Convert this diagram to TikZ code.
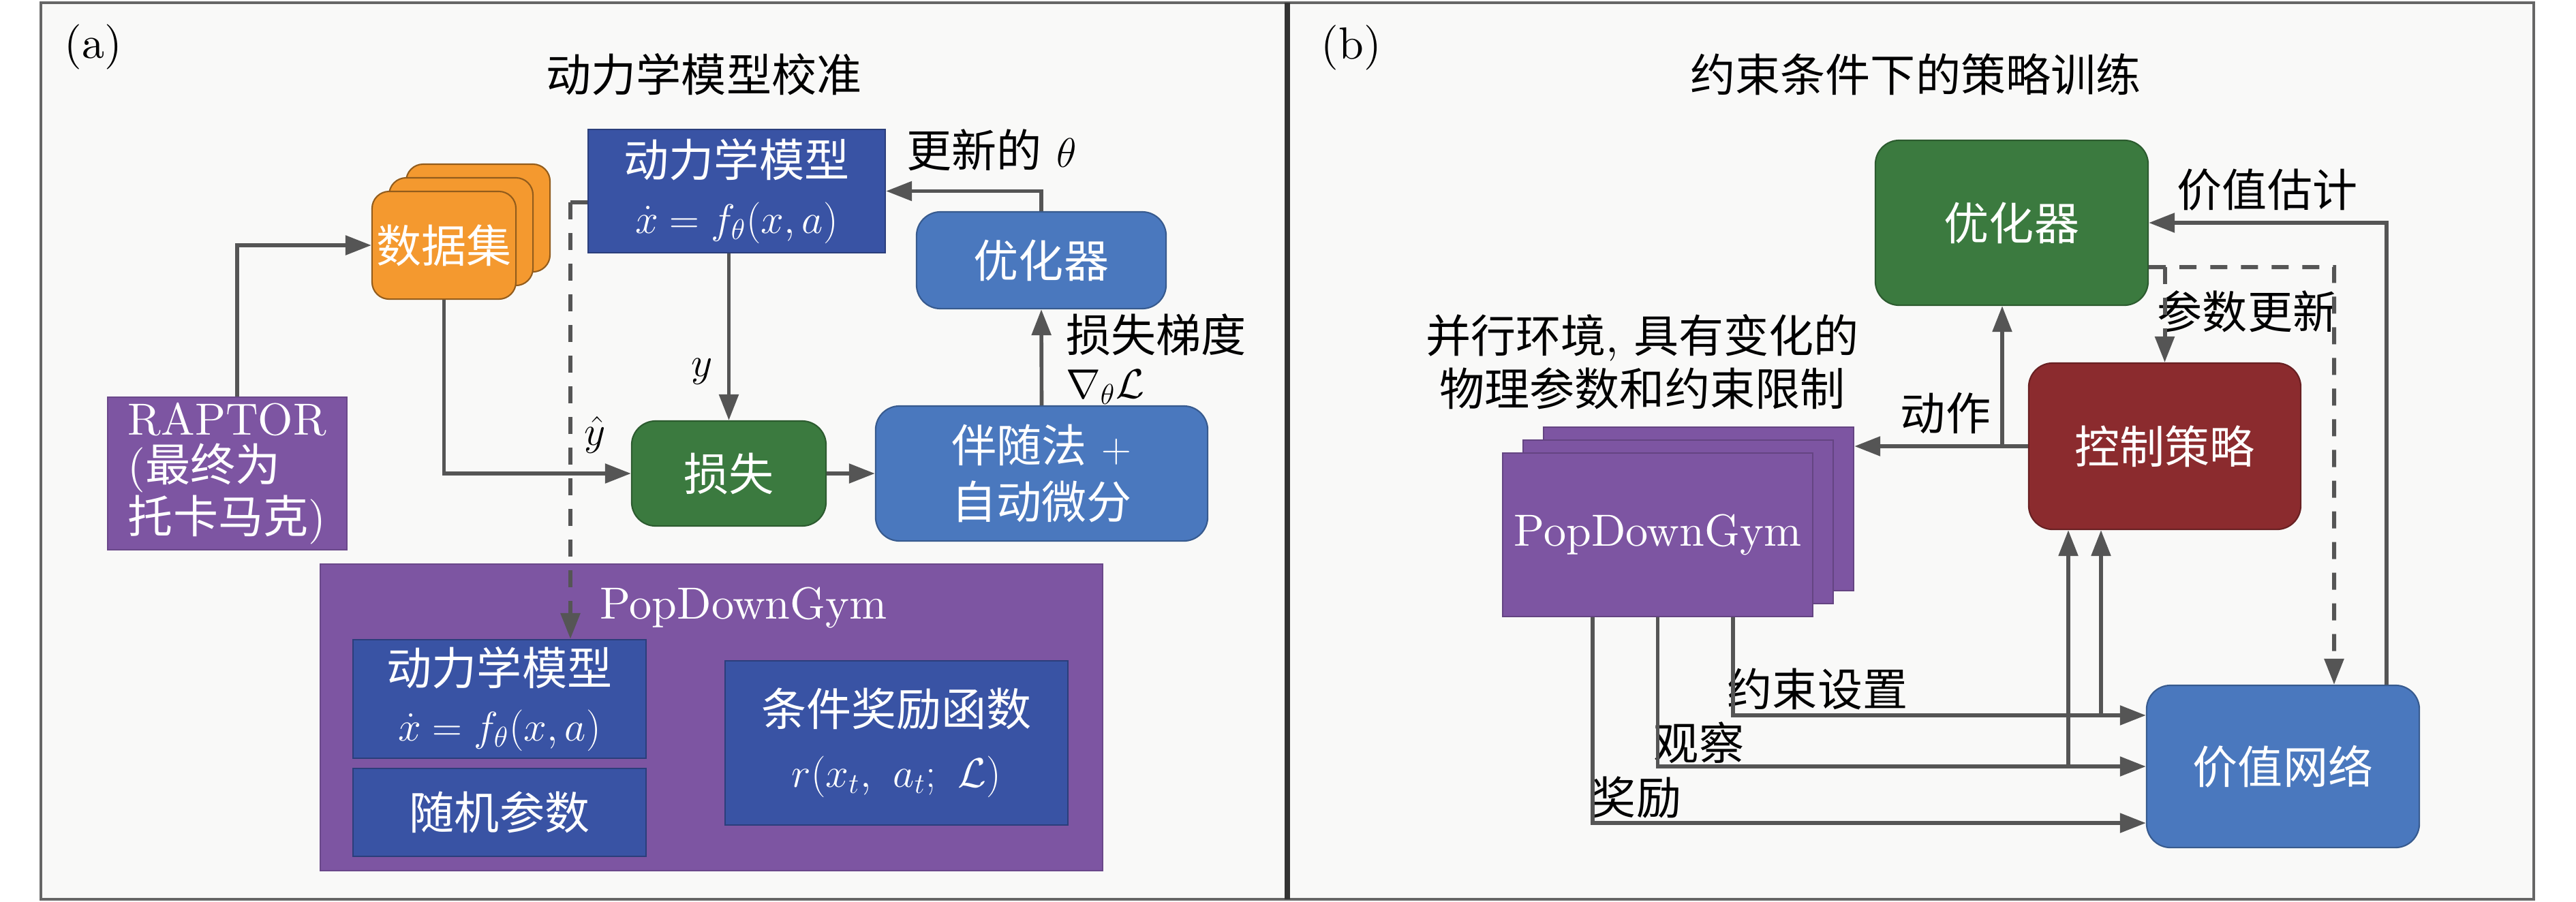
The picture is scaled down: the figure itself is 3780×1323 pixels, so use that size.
\documentclass[tikz,border=0pt]{standalone}
\usepackage{fontspec}
\setmainfont{lmroman10-regular.otf}[BoldFont=lmroman10-bold.otf, ItalicFont=lmroman10-italic.otf]
\newfontfamily\cjkfont{Noto Sans CJK SC}
\newcommand\zhtxt[1]{{\cjkfont #1}}
\usetikzlibrary{arrows.meta}
\definecolor{dkblue}{HTML}{3953A4}
\definecolor{mdblue}{HTML}{4A78BE}
\definecolor{orng}{HTML}{F4992F}
\definecolor{purp}{HTML}{7D55A2}
\definecolor{grn}{HTML}{3B7A3F}
\definecolor{dkred}{HTML}{8B2B2E}
\definecolor{bgc}{HTML}{F9F9F8}
\definecolor{linec}{HTML}{555555}
\definecolor{framec}{HTML}{666666}
\begin{document}
\begin{tikzpicture}[x=0.01cm,y=-0.01cm,
  fA/.style={font=\fontsize{18.8}{23.5}\selectfont},
  fB/.style={font=\fontsize{18.8}{19.3}\selectfont},
  fC/.style={font=\fontsize{18.8}{25.6}\selectfont},
  fD/.style={font=\fontsize{18.8}{22.2}\selectfont},
  box/.style={inner sep=0pt, align=center, text=white, line width=0.6pt, fA},
  sqbox/.style={box},
  rbox/.style={box, rounded corners=0.35cm},
  lbl/.style={inner sep=1pt, align=center, text=black, fA},
  arr/.style={draw=linec, line width=1.6pt, -{Triangle[length=0.38cm,width=0.28cm]}},
  plain/.style={draw=linec, line width=1.6pt},
  darr/.style={draw=linec, line width=1.7pt, dash pattern=on 0.25cm off 0.2cm, -{Triangle[length=0.38cm,width=0.28cm]}},
]
\useasboundingbox (0,0) rectangle (3780,1323);
% frame
\fill[bgc] (60,4) rectangle (3718,1320);
\draw[framec, line width=1.4pt] (60,4) rectangle (3718,1320);
\draw[black!80, line width=2pt] (1889,4) -- (1889,1320);

% ---------------- panel (a)
\node[lbl] (la) at (137,69) {(a)};
\node[lbl] (ta) at (1033,109) {\zhtxt{动力学模型校准}};

\node[sqbox, fill=dkblue, draw=dkblue!75!black, minimum width=4.36cm, minimum height=1.81cm] (dyn) at (1081,280.5)
  {\zhtxt{动力学模型}\\$\dot{x}=f_\theta(x,a)$};
\node[rbox, fill=mdblue, draw=mdblue!75!black, minimum width=3.66cm, minimum height=1.42cm] (opta) at (1528,382) {\zhtxt{优化器}};
\node[lbl] (upd) at (1455,220) {\zhtxt{更新的} $\theta$};

\node[box, rounded corners=0.25cm, fill=orng, draw=orng!60!black, minimum width=2.11cm, minimum height=1.58cm] (ds3) at (701.5,320) {};
\node[box, rounded corners=0.25cm, fill=orng, draw=orng!60!black, minimum width=2.11cm, minimum height=1.58cm] (ds2) at (676.5,340) {};
\node[box, rounded corners=0.25cm, fill=orng, draw=orng!60!black, minimum width=2.11cm, minimum height=1.58cm] (ds) at (651.5,360) {\zhtxt{数据集}};

\node[sqbox, fill=purp, draw=purp!85!black, minimum width=3.51cm, minimum height=2.24cm, align=left, fB] (rap) at (333.5,695)
  {RAPTOR\\(\zhtxt{最终为}\\\zhtxt{托卡马克})};

\node[rbox, fill=grn, draw=grn!75!black, minimum width=2.85cm, minimum height=1.54cm] (loss) at (1069.5,695) {\zhtxt{损失}};
\node[rbox, fill=mdblue, draw=mdblue!75!black, minimum width=4.87cm, minimum height=1.98cm] (adj) at (1528.5,695)
  {\zhtxt{伴随法} $+$\\\zhtxt{自动微分}};

\node[lbl, align=left, anchor=west, fB] (grad) at (1560,527) {\zhtxt{损失梯度}\\$\nabla_\theta\mathcal{L}$};
\node[lbl] (ylab) at (1030,545) {$y$};
\node[lbl] (yhat) at (873,638) {$\hat{y}$};

\node[sqbox, fill=purp, draw=purp!85!black, minimum width=11.48cm, minimum height=4.50cm] (pdg) at (1044,1053) {};
\node[lbl, text=white] (pdgt) at (1091,892) {PopDownGym};
\node[sqbox, fill=dkblue, draw=dkblue!75!black, minimum width=4.30cm, minimum height=1.74cm] (idyn) at (733,1026)
  {\zhtxt{动力学模型}\\$\dot{x}=f_\theta(x,a)$};
\node[sqbox, fill=dkblue, draw=dkblue!75!black, minimum width=4.30cm, minimum height=1.29cm] (rnd) at (733,1192.5) {\zhtxt{随机参数}};
\node[sqbox, fill=dkblue, draw=dkblue!75!black, minimum width=5.03cm, minimum height=2.41cm, fC] (rew) at (1315.5,1090.5)
  {\zhtxt{条件奖励函数}\\$r(x_t,\ a_t;\ \mathcal{L})$};

% connectors (a)
\draw[arr] (opta.north) |- (dyn.east);
\draw[arr] ([xshift=0.145cm]rap.north) |- (ds.west);
\draw[arr] (ds.south) |- (loss.west);
\draw[arr] (dyn.south -| loss.north) -- (loss.north);
\draw[arr] (loss.east) -- (adj.west);
\draw[arr] (adj.north) -- (opta.south);
\coordinate (dk) at (837,297);
\draw[plain] (dyn.west |- dk) -- (dk);
\draw[darr] (dk) -- (dk |- idyn.north);

% ---------------- panel (b)
\node[lbl] (lb) at (1983,70) {(b)};
\node[lbl] (tb) at (2811,109) {\zhtxt{约束条件下的策略训练}};

\node[rbox, fill=grn, draw=grn!75!black, minimum width=4.00cm, minimum height=2.42cm] (optb) at (2952,327) {\zhtxt{优化器}};
\node[rbox, fill=dkred, draw=dkred!75!black, minimum width=3.99cm, minimum height=2.44cm] (ctrl) at (3176.5,655) {\zhtxt{控制策略}};
\node[rbox, fill=mdblue, draw=mdblue!75!black, minimum width=4.00cm, minimum height=2.38cm] (vnet) at (3350,1125) {\zhtxt{价值网络}};

\node[sqbox, fill=purp, draw=purp!80!black, minimum width=4.55cm, minimum height=2.40cm] (env3) at (2492.5,747) {};
\node[sqbox, fill=purp, draw=purp!80!black, minimum width=4.55cm, minimum height=2.40cm] (env2) at (2462.5,766) {};
\node[sqbox, fill=purp, draw=purp!80!black, minimum width=4.55cm, minimum height=2.40cm] (env) at (2432.5,785) {PopDownGym};

\node[lbl, fD] (envlab) at (2410,531) {\zhtxt{并行环境}, \zhtxt{具有变化的}\\\zhtxt{物理参数和约束限制}};
\node[lbl] (vest) at (3327,279) {\zhtxt{价值估计}};
\node[lbl] (pupd) at (3298,457) {\zhtxt{参数更新}};
\node[lbl] (act) at (2855,606) {\zhtxt{动作}};
\node[lbl] (cset) at (2667,1011) {\zhtxt{约束设置}};
\node[lbl] (obs) at (2493,1090) {\zhtxt{观察}};
\node[lbl] (rwd) at (2401,1170) {\zhtxt{奖励}};

% connectors (b)
\draw[arr] ([xshift=1.52cm]vnet.north) |- (optb.east);
\coordinate (dd) at (3425,392);
\draw[darr] ([yshift=-0.65cm]optb.east) -- (dd) -- (dd |- vnet.north);
\draw[darr] (ctrl.north |- dd) -- (ctrl.north);
\draw[arr] (ctrl.west) -- (ctrl.west -| env3.east);
\coordinate (ab) at (2938,655);
\draw[arr] (ab) -- (ab |- optb.south);
\draw[arr] ([xshift=1.105cm]env.south) |- ([yshift=0.75cm]vnet.west);
\draw[arr] (env.south) |- (vnet.west);
\draw[arr] ([xshift=-0.955cm]env.south) |- ([yshift=-0.83cm]vnet.west);
\coordinate (jo) at (3035,1125);
\coordinate (jc) at (3083,1050);
\draw[arr] (jo) -- (jo |- ctrl.south);
\draw[arr] (jc) -- (jc |- ctrl.south);
\end{tikzpicture}
\end{document}
